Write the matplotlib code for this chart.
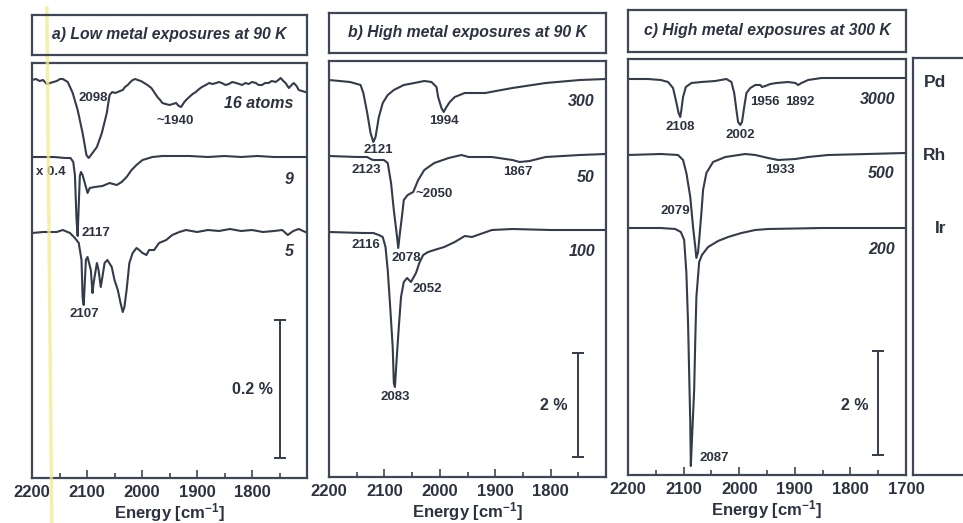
import matplotlib
matplotlib.use("Agg")
import matplotlib.pyplot as plt
from matplotlib.ticker import FixedLocator, MultipleLocator

plt.rcParams['font.family'] = ['Liberation Sans', 'DejaVu Sans']
plt.rcParams['font.weight'] = 'bold'
plt.rcParams['axes.labelweight'] = 'bold'
plt.rcParams['mathtext.fontset'] = 'custom'
plt.rcParams['mathtext.rm'] = 'Liberation Sans:bold'
plt.rcParams['mathtext.bf'] = 'Liberation Sans:bold'
plt.rcParams['mathtext.it'] = 'Liberation Sans:bold:italic'

# ---------------- data (wavenumber in cm-1, absorption depth in a.u.) -------------
titles = ["a) Low metal exposures at 90 K",
          "b) High metal exposures at 90 K",
          "c) High metal exposures at 300 K"]
metals = ["Pd", "Rh", "Ir"]
xticks_major = [2200, 2100, 2000, 1900, 1800, 1700]

# panel a
a16_wn = [2200, 2193, 2186, 2180, 2173, 2167, 2161, 2155, 2149, 2144, 2135, 2126, 2117, 2108, 2101, 2097, 2090,
          2082, 2073, 2064, 2059, 2054, 2049, 2044, 2040, 2035, 2031, 2026, 2021, 2017, 2012, 2008, 2002, 1996,
          1990, 1983, 1978, 1972, 1967, 1963, 1957, 1950, 1944, 1938, 1933, 1929, 1923, 1918, 1914, 1908, 1902,
          1896, 1891, 1884, 1878, 1872, 1865, 1860, 1855, 1848, 1842, 1836, 1829, 1823, 1818, 1812, 1806, 1800,
          1793, 1788, 1782, 1776, 1770, 1764, 1757, 1752, 1748, 1743, 1739, 1733, 1728, 1724, 1719, 1715, 1709,
          1703]
a16_d = [0, -1, 1, 0, 4, 3, 2, 1, -1, -1, 2, 13, 30, 53, 75, 78, 73, 67, 53, 33, 15, 12, 13, 12, 11, 10, 7, 5,
         2, 0, -1, 0, 1, 3, 5, 8, 12, 17, 20, 23, 24, 25, 24, 23, 26, 27, 22, 19, 17, 14, 12, 9, 7, 5, 3, 4, 3,
         2, 3, 5, 4, 2, 3, 4, 5, 3, 4, 2, 3, 5, 5, 3, 3, 1, 2, 0, -2, 1, 3, 8, 5, 3, 6, 10, 11, 12]
a9_wn = [2200, 2180, 2160, 2140, 2130, 2125, 2122, 2119, 2117, 2115, 2113, 2111, 2108, 2104, 2099, 2095, 2086,
         2072, 2059, 2046, 2037, 2028, 2019, 2010, 1999, 1981, 1963, 1940, 1914, 1880, 1850, 1820, 1790, 1760,
         1730, 1703]
a9_d = [0, 0, 0, 1, 1, 5, 18, 63, 79, 48, 19, 15, 18, 26, 36, 31, 30, 29, 26, 28, 25, 20, 13, 8, 3, 0, -1, -1,
        -1, 0, -1, 0, -1, 0, 0, 0]
a5_wn = [2200, 2180, 2155, 2144, 2131, 2122, 2115, 2110, 2108, 2106, 2102, 2099, 2093, 2090, 2088, 2082, 2079,
         2075, 2072, 2068, 2063, 2055, 2050, 2044, 2039, 2035, 2032, 2028, 2023, 2017, 2010, 2005, 1999, 1992,
         1987, 1978, 1969, 1956, 1945, 1932, 1920, 1900, 1880, 1860, 1840, 1820, 1800, 1780, 1760, 1745, 1735,
         1725, 1715, 1703]
a5_d = [1, 0, 0, -2, 1, 6, 11, 28, 65, 73, 28, 25, 38, 61, 51, 31, 38, 55, 45, 31, 28, 35, 48, 58, 71, 80, 75,
        58, 31, 21, 16, 18, 21, 23, 18, 18, 11, 8, 3, 0, -2, 0, -2, -1, -3, -1, -2, 0, -1, -2, 3, -1, -3, 0]

# panel b
b300_wn = [2200, 2162, 2143, 2138, 2131, 2125, 2120, 2116, 2110, 2103, 2094, 2083, 2065, 2046, 2028, 2015, 2006,
           2003, 1997, 1993, 1988, 1982, 1973, 1955, 1942, 1918, 1869, 1809, 1747, 1700]
b300_d = [0, 2, 5, 13, 33, 53, 62, 57, 37, 23, 15, 10, 5, 3, 1, 2, 7, 17, 28, 32, 27, 22, 17, 13, 13, 13, 8, 3,
          0, -1]
b50_wn = [2200, 2149, 2131, 2125, 2120, 2101, 2094, 2088, 2083, 2078, 2075, 2072, 2068, 2065, 2058, 2048, 2039,
          2028, 2010, 1984, 1961, 1948, 1906, 1869, 1856, 1838, 1809, 1747, 1700]
b50_d = [0, 1, 1, 3, 4, 4, 7, 27, 54, 77, 92, 77, 59, 44, 39, 36, 24, 14, 7, 2, -1, 1, 1, 4, 6, 5, 1, -1, -2]
b100_wn = [2200, 2138, 2120, 2110, 2103, 2098, 2094, 2090, 2085, 2083, 2081, 2078, 2074, 2070, 2065, 2059, 2052,
           2043, 2037, 2030, 2021, 2010, 1992, 1973, 1955, 1942, 1906, 1869, 1800, 1700]
b100_d = [0, 1, 1, 3, 5, 15, 38, 71, 115, 151, 155, 128, 95, 65, 50, 46, 50, 41, 31, 23, 20, 18, 15, 10, 4, 5,
          -2, -3, -2, -2]

# panel c
c3000_wn = [2200, 2164, 2141, 2128, 2119, 2114, 2109, 2106, 2104, 2101, 2096, 2086, 2068, 2043, 2023, 2014, 2009,
            2005, 2002, 1998, 1995, 1991, 1987, 1980, 1971, 1962, 1959, 1953, 1944, 1933, 1912, 1899, 1894, 1888,
            1876, 1852, 1840, 1760, 1700]
c3000_d = [0, 0, 1, 3, 9, 21, 34, 38, 31, 18, 8, 4, 3, 2, 0, 3, 14, 31, 43, 46, 43, 28, 14, 9, 6, 6, 8, 7, 5, 4,
           3, 4, 6, 4, 1, -1, -1, -1, -1]
c500_wn = [2200, 2141, 2110, 2101, 2095, 2088, 2083, 2079, 2077, 2074, 2072, 2068, 2065, 2059, 2047, 2025, 1989,
           1971, 1948, 1930, 1899, 1876, 1840, 1700]
c500_d = [0, -1, 0, 5, 18, 42, 72, 92, 103, 97, 85, 58, 35, 18, 7, 2, -1, 0, 3, 5, 4, 2, 0, -2]
c200_wn = [2200, 2141, 2115, 2105, 2099, 2095, 2092, 2090, 2088, 2087, 2085, 2081, 2079, 2077, 2072, 2067, 2056,
           2038, 2020, 1996, 1971, 1948, 1850, 1700]
c200_d = [0, 0, 1, 4, 12, 45, 95, 145, 195, 238, 212, 162, 112, 69, 34, 27, 19, 13, 9, 5, 2, 1, 0, 0]

series_labels_a = ["16 atoms", "9", "5"]
series_labels_b = ["300", "50", "100"]
series_labels_c = ["3000", "500", "200"]
scale_labels = ["0.2 %", "2 %", "2 %"]

# ---------------- layout / style ----------------
W, H = 963, 523
fig = plt.figure(figsize=(W / 100, H / 100), dpi=100)
LINE = '#343b4b'
FRAME = '#3f4656'
TXT = '#2c3240'


def px_axes(x0, y0, x1, y1):
    return fig.add_axes([x0 / W, 1 - y1 / H, (x1 - x0) / W, (y1 - y0) / H])


panels = [
    dict(box=(32, 63, 307, 478), tbox=(32, 15, 307, 55), title=titles[0],
         traces=[(a16_wn, a16_d, 398), (a9_wn, a9_d, 321), (a5_wn, a5_d, 246)],
         series=series_labels_a, series_h=[374, 299, 226], series_x=1725,
         peaks=[("2098", 2089, 380), ("~1940", 1940, 357), ("x 0.4", 2165, 306),
                ("2117", 2084, 245), ("2107", 2104, 164)],
         bar=(1750, 20, 138), bar_label=(scale_labels[0], 1762, 88),
         labels=[2200, 2100, 2000, 1900, 1800]),
    dict(box=(329, 61, 606, 477), tbox=(329, 13, 606, 53), title=titles[1],
         traces=[(b300_wn, b300_d, 397), (b50_wn, b50_d, 321), (b100_wn, b100_d, 245)],
         series=series_labels_b, series_h=[376, 300, 225], series_x=1720,
         peaks=[("1994", 1992, 356), ("2121", 2112, 327), ("2123", 2133, 307), ("~2050", 2010, 283),
                ("1867", 1859, 305), ("2116", 2133, 232), ("2078", 2061, 219), ("2052", 2023, 188),
                ("2083", 2081, 80)],
         bar=(1750, 20, 104), bar_label=(scale_labels[1], 1769, 71),
         labels=[2200, 2100, 2000, 1900, 1800]),
    dict(box=(628, 59, 906, 475), tbox=(628, 10, 906, 52), title=titles[2],
         traces=[(c3000_wn, c3000_d, 396), (c500_wn, c500_d, 320), (c200_wn, c200_d, 247)],
         series=series_labels_c, series_h=[376, 301, 225], series_x=1720,
         peaks=[("2108", 2106, 348), ("2002", 1999, 340), ("1956", 1954, 373), ("1892", 1891, 373),
                ("1933", 1927, 305), ("2079", 2115, 264), ("2087", 2045, 17)],
         bar=(1750, 20, 104), bar_label=(scale_labels[2], 1767, 70),
         labels=[2200, 2100, 2000, 1900, 1800, 1700]),
]

axes = []
for p in panels:
    x0, y0, x1, y1 = p['box']
    ax = px_axes(x0, y0, x1, y1)
    axes.append(ax)
    ax.set_xlim(2200, 1700)
    ax.set_ylim(0, y1 - y0)
    for wn, d, off in p['traces']:
        ax.plot(wn, [off - v for v in d], color=LINE, lw=1.5, solid_joinstyle='round')
    for txt, h in zip(p['series'], p['series_h']):
        ax.text(p['series_x'], h, txt, ha='right', va='center', style='italic',
                fontsize=11.5, fontweight='bold', color=TXT)
    for txt, wn, h in p['peaks']:
        ax.text(wn, h, txt, ha='center', va='center', fontsize=9.5, fontweight='bold', color=TXT)
    bx, by0, blen = p['bar']
    ax.errorbar([bx], [by0 + blen / 2], yerr=[[blen / 2], [blen / 2]], fmt='none',
                ecolor=LINE, elinewidth=1.4, capsize=4, capthick=1.4)
    lt, lx, lh = p['bar_label']
    ax.text(lx, lh, lt, ha='right', va='center', fontsize=11.5, fontweight='bold', color=TXT)
    ax.xaxis.set_major_locator(FixedLocator(xticks_major))
    ax.xaxis.set_minor_locator(MultipleLocator(50))
    ax.set_xticklabels([str(t) if t in p['labels'] else '' for t in xticks_major], fontweight='bold')
    ax.tick_params(axis='x', which='major', direction='in', length=6, width=1.2, color=FRAME,
                   labelsize=12, pad=5, labelcolor=TXT)
    ax.tick_params(axis='x', which='minor', direction='in', length=3.5, width=1.2, color=FRAME)
    ax.set_yticks([])
    for s in ax.spines.values():
        s.set_color(FRAME)
        s.set_linewidth(1.6)
    ax.set_xlabel('Energy [cm$^{-1}$]', fontsize=12, fontweight='bold', color=TXT, labelpad=1)

    tx0, ty0, tx1, ty1 = p['tbox']
    tax = px_axes(tx0, ty0, tx1, ty1)
    tax.set_xticks([])
    tax.set_yticks([])
    tax.set_facecolor('none')
    for s in tax.spines.values():
        s.set_color(FRAME)
        s.set_linewidth(1.6)
    tax.text(0.5, 0.5, p['title'], ha='center', va='center', style='italic', fontweight='bold',
             fontsize=11.3, color=TXT, transform=tax.transAxes)

# metal label box on the right
rax = px_axes(913, 58, 975, 475)
rax.set_xticks([])
rax.set_yticks([])
for s in rax.spines.values():
    s.set_color(FRAME)
    s.set_linewidth(1.6)
for m, fx, fy in zip(metals, [0.35, 0.35, 0.45], [0.942, 0.765, 0.592]):
    rax.text(fx, fy, m, ha='center', va='center', fontsize=12.5, fontweight='bold', color=TXT,
             transform=rax.transAxes)

# faint yellow highlight line crossing panel a
axes[0].plot([2173, 2164], [470, -45], color='#f2ec8c', lw=2.5, alpha=0.75, clip_on=False, zorder=10)

fig.savefig('out.png', dpi=100)
